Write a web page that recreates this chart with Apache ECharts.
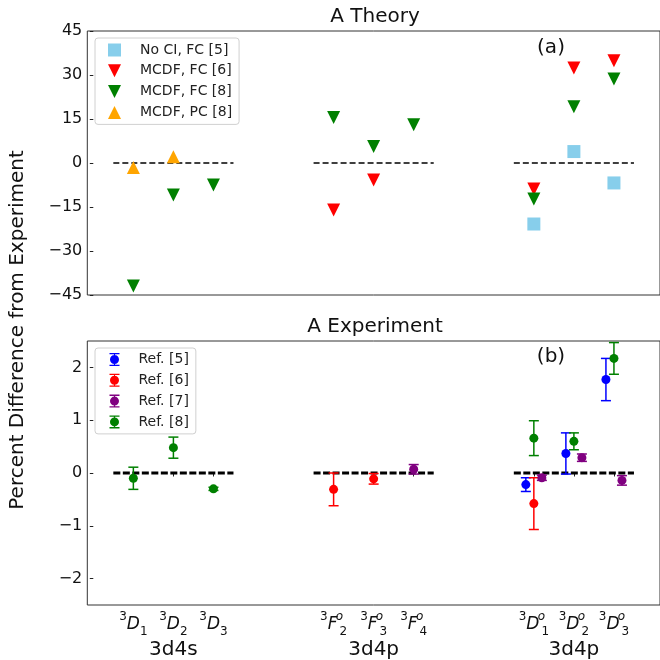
<!DOCTYPE html>
<html>
<head>
<meta charset="utf-8">
<script src="https://cdn.jsdelivr.net/npm/echarts@6/dist/echarts.min.js"></script>
<style>
  html, body { margin: 0; padding: 0; background: #fff; }
  #chart { width: 660px; height: 660px; }
</style>
</head>
<body>
<div id="chart"></div>
<script>
// x positions of the levels, and their labels
var tickPos = [1, 2, 3, 6, 7, 8, 11, 12, 13];
var tickTerm = ["D", "D", "D", "F", "F", "F", "D", "D", "D"];
var tickJ = ["1", "2", "3", "2", "3", "4", "1", "2", "3"];
var tickOdd = [false, false, false, true, true, true, true, true, true];
var groupPos = [2, 7, 12];
var groupNames = ["3d4s", "3d4p", "3d4p"];
var zeroSpans = [[0.5, 3.5], [5.5, 8.5], [10.5, 13.5]];

// (a) theory, percent difference
var noCiX = [11, 12, 13];
var noCiY = [-20.8, 3.9, -6.8];
var mcdf6X = [6, 7, 11, 12, 13];
var mcdf6Y = [-16.0, -5.8, -8.9, 32.4, 34.9];
var mcdf8X = [1, 2, 3, 6, 7, 8, 11, 12, 13];
var mcdf8Y = [-41.9, -10.9, -7.5, 15.5, 5.6, 13.0, -12.3, 19.2, 28.6];
var pc8X = [1, 2];
var pc8Y = [-1.5, 2.1];

// (b) experiment, value and error
var ref5X = [10.8, 11.8, 12.8];
var ref5Y = [-0.22, 0.37, 1.77];
var ref5E = [0.13, 0.39, 0.40];
var ref6X = [6, 7, 11];
var ref6Y = [-0.31, -0.11, -0.58];
var ref6E = [0.31, 0.10, 0.49];
var ref7X = [8, 11.2, 12.2, 13.2];
var ref7Y = [0.07, -0.09, 0.29, -0.14];
var ref7E = [0.09, 0.05, 0.07, 0.09];
var ref8X = [1, 2, 3, 11, 12, 13];
var ref8Y = [-0.10, 0.48, -0.30, 0.66, 0.60, 2.17];
var ref8E = [0.21, 0.20, 0.03, 0.33, 0.16, 0.30];

var FONT = "DejaVu Sans";
var triDown = "path://M0,0H10L5,10Z";
var triUp = "path://M5,0L10,10H0Z";
var square = "path://M0,0H10V10H0Z";
var errIcon = "path://M0,0H10V1.3H0Z M4.4,0H5.6V2.2H4.4Z M4.4,10.8H5.6V13H4.4Z M0,11.7H10V13H0Z M0.5,6.5A4.5,4.5 0 1 1 9.5,6.5A4.5,4.5 0 1 1 0.5,6.5Z";

function pairs(xs, ys) {
  return xs.map(function (x, i) { return [x, ys[i]]; });
}
function triples(xs, ys, es) {
  return xs.map(function (x, i) { return [x, ys[i], es[i]]; });
}
function minus(v) {
  return String(v).replace("-", "\u2212");
}

function errorBarItem(params, api) {
  var x = api.value(0), y = api.value(1), e = api.value(2);
  var hi = api.coord([x, y + e]);
  var lo = api.coord([x, y - e]);
  var cap = 5;
  var style = { stroke: api.visual("color"), lineWidth: 1.5 };
  return {
    type: "group",
    children: [
      { type: "line", shape: { x1: hi[0], y1: hi[1], x2: lo[0], y2: lo[1] }, style: style },
      { type: "line", shape: { x1: hi[0] - cap, y1: hi[1], x2: hi[0] + cap, y2: hi[1] }, style: style },
      { type: "line", shape: { x1: lo[0] - cap, y1: lo[1], x2: lo[0] + cap, y2: lo[1] }, style: style }
    ]
  };
}

var series = [];

zeroSpans.forEach(function (s) {
  series.push({
    type: "line", xAxisIndex: 0, yAxisIndex: 0, data: [[s[0], 0], [s[1], 0]],
    symbol: "none", silent: true, z: 1,
    lineStyle: { color: "#000", width: 1.5, type: [6, 3] }
  });
  series.push({
    type: "line", xAxisIndex: 1, yAxisIndex: 1, data: [[s[0], 0], [s[1], 0]],
    symbol: "none", silent: true, z: 1,
    lineStyle: { color: "#000", width: 3, type: [7, 2.5] }
  });
});

function topScatter(name, xs, ys, color, symbol, rotate) {
  series.push({
    name: name, type: "scatter", xAxisIndex: 0, yAxisIndex: 0,
    data: pairs(xs, ys), symbol: symbol, symbolSize: 13, symbolRotate: rotate || 0,
    itemStyle: { color: color, opacity: 1 }, z: 3
  });
}
topScatter("No CI, FC [5]", noCiX, noCiY, "#87CEEB", "rect");
topScatter("MCDF, FC [6]", mcdf6X, mcdf6Y, "#FF0000", "triangle", 180);
topScatter("MCDF, FC [8]", mcdf8X, mcdf8Y, "#008000", "triangle", 180);
topScatter("MCDF, PC [8]", pc8X, pc8Y, "#FFA500", "triangle");

function expSeries(name, xs, ys, es, color) {
  series.push({
    name: name, type: "custom", xAxisIndex: 1, yAxisIndex: 1,
    data: triples(xs, ys, es), encode: { x: 0, y: 1 },
    renderItem: errorBarItem, itemStyle: { color: color }, z: 3
  });
  series.push({
    name: name, type: "scatter", xAxisIndex: 1, yAxisIndex: 1,
    data: pairs(xs, ys), symbol: "circle", symbolSize: 9,
    itemStyle: { color: color, opacity: 1 }, z: 4
  });
}
expSeries("Ref. [5]", ref5X, ref5Y, ref5E, "#0000FF");
expSeries("Ref. [6]", ref6X, ref6Y, ref6E, "#FF0000");
expSeries("Ref. [7]", ref7X, ref7Y, ref7E, "#800080");
expSeries("Ref. [8]", ref8X, ref8Y, ref8E, "#008000");

function tickLabel(v) {
  var i = tickPos.indexOf(v);
  if (i < 0) return "";
  if (tickOdd[i]) {
    return "{sup|3}{m|" + tickTerm[i] + "}{sp| }{so|o}{sb|" + tickJ[i] + "}";
  }
  return "{sup|3}{m|" + tickTerm[i] + "}{sb|" + tickJ[i] + "}";
}

var legendCommon = {
  orient: "vertical", left: 95, itemWidth: 13, itemHeight: 13, itemGap: 4.8,
  padding: [4, 7, 4, 13],
  borderColor: "#d0d0d0", borderWidth: 1, borderRadius: 3,
  backgroundColor: "rgba(255,255,255,0.8)",
  textStyle: { fontFamily: FONT, fontSize: 14, color: "#222", lineHeight: 16, padding: [0, 0, 0, 14] }
};

var option = {
  animation: false,
  backgroundColor: "#fff",
  textStyle: { fontFamily: FONT },
  grid: [
    { left: 87.3, right: -3.6, top: 31, height: 264, show: true, borderColor: "#333", borderWidth: 1 },
    { left: 87.3, right: -3.6, top: 341, height: 264, show: true, borderColor: "#333", borderWidth: 1 }
  ],
  xAxis: [
    {
      gridIndex: 0, type: "value", min: -0.15, max: 14.15,
      axisLine: { show: false }, axisTick: { show: false }, axisLabel: { show: false },
      splitLine: { show: false }
    },
    {
      gridIndex: 1, type: "value", min: -0.15, max: 14.15,
      axisLine: { show: false },
      axisTick: { show: true, customValues: tickPos, length: 3.5, lineStyle: { color: "#222" } },
      axisLabel: {
        customValues: tickPos, margin: 6, formatter: tickLabel, color: "#111",
        rich: {
          sup: { fontFamily: FONT, fontSize: 12, verticalAlign: "top", lineHeight: 12, color: "#111" },
          m: { fontFamily: FONT, fontSize: 17, fontStyle: "italic", lineHeight: 27, color: "#111" },
          sp: { fontFamily: FONT, fontSize: 12, width: 2, lineHeight: 12 },
          so: { fontFamily: FONT, fontSize: 12, fontStyle: "italic", verticalAlign: "top", lineHeight: 13, width: 0, color: "#111" },
          sb: { fontFamily: FONT, fontSize: 12, verticalAlign: "bottom", lineHeight: 12, color: "#111" }
        }
      },
      splitLine: { show: false }
    },
    {
      gridIndex: 1, type: "value", min: -0.15, max: 14.15, position: "bottom", offset: 31,
      axisLine: { show: false }, axisTick: { show: false },
      axisLabel: {
        customValues: groupPos, margin: 4, fontFamily: FONT, fontSize: 20, color: "#111",
        formatter: function (v) { return groupNames[groupPos.indexOf(v)] || ""; }
      },
      splitLine: { show: false }
    }
  ],
  yAxis: [
    {
      gridIndex: 0, type: "value", min: -45, max: 45, interval: 15,
      axisLine: { show: false },
      axisTick: { show: true, length: 3.5, lineStyle: { color: "#222" } },
      axisLabel: { fontFamily: FONT, fontSize: 16, color: "#111", margin: 5, formatter: minus },
      splitLine: { show: false }
    },
    {
      gridIndex: 1, type: "value", min: -2.5, max: 2.5,
      axisLine: { show: false },
      axisTick: { show: true, length: 3.5, customValues: [-2, -1, 0, 1, 2], lineStyle: { color: "#222" } },
      axisLabel: { customValues: [-2, -1, 0, 1, 2], fontFamily: FONT, fontSize: 16, color: "#111", margin: 5, formatter: minus },
      splitLine: { show: false }
    }
  ],
  legend: [
    Object.assign({}, legendCommon, {
      top: 38,
      data: [
        { name: "No CI, FC [5]", icon: square },
        { name: "MCDF, FC [6]", icon: triDown },
        { name: "MCDF, FC [8]", icon: triDown },
        { name: "MCDF, PC [8]", icon: triUp }
      ]
    }),
    Object.assign({}, legendCommon, {
      top: 348, itemWidth: 10,
      padding: [3.5, 7, 4, 14.5],
      data: [
        { name: "Ref. [5]", icon: errIcon },
        { name: "Ref. [6]", icon: errIcon },
        { name: "Ref. [7]", icon: errIcon },
        { name: "Ref. [8]", icon: errIcon }
      ]
    })
  ],
  graphic: [
    { type: "text", x: 375, y: 17, style: { text: "A Theory", font: "20px " + FONT, fill: "#111", align: "center", verticalAlign: "middle" } },
    { type: "text", x: 375, y: 327, style: { text: "A Experiment", font: "20px " + FONT, fill: "#111", align: "center", verticalAlign: "middle" } },
    { type: "text", x: 551, y: 48, style: { text: "(a)", font: "20px " + FONT, fill: "#111", align: "center", verticalAlign: "middle" } },
    { type: "text", x: 551, y: 357, style: { text: "(b)", font: "20px " + FONT, fill: "#111", align: "center", verticalAlign: "middle" } },
    {
      type: "text", x: 18, y: 330, rotation: Math.PI / 2,
      style: { text: "Percent Difference from Experiment", font: "20px " + FONT, fill: "#111", align: "center", verticalAlign: "middle" }
    }
  ],
  series: series
};

var chart = echarts.init(document.getElementById("chart"));
chart.setOption(option);
</script>
</body>
</html>
